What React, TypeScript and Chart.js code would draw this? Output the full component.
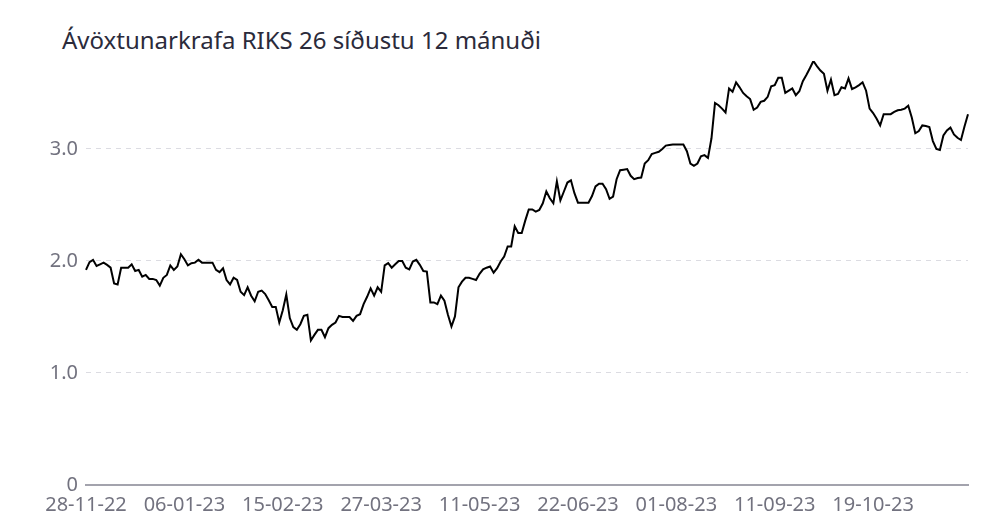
import React, { useEffect, useRef } from 'react';
import { Chart, registerables } from 'chart.js';

Chart.register(...registerables);

const TITLE = 'Ávöxtunarkrafa RIKS 26 síðustu 12 mánuði';

// Trading-day calendar (categories)
const START_DATE = '2022-11-28';
const POINT_COUNT = 252;
const HOLIDAYS = [
  '2022-12-26', '2023-04-06', '2023-04-07', '2023-04-10', '2023-04-20',
  '2023-05-01', '2023-05-18', '2023-05-29', '2023-08-07',
];
const LABEL_STEP = 28;

// Yield (%) per trading day
const yieldValues = [
  1.92, 1.99, 2.01, 1.955, 1.97, 1.985, 1.965, 1.94, 1.80, 1.79,
  1.94, 1.94, 1.94, 1.97, 1.91, 1.92, 1.86, 1.875, 1.84, 1.84,
  1.83, 1.78, 1.85, 1.875, 1.96, 1.92, 1.95, 2.06, 2.015, 1.96,
  1.98, 1.985, 2.01, 1.985, 1.985, 1.985, 1.985, 1.92, 1.90, 1.935,
  1.83, 1.79, 1.85, 1.83, 1.725, 1.695, 1.765, 1.69, 1.64, 1.725,
  1.735, 1.705, 1.65, 1.59, 1.59, 1.45, 1.56, 1.70, 1.49, 1.41,
  1.385, 1.435, 1.51, 1.52, 1.29, 1.34, 1.385, 1.385, 1.32, 1.40,
  1.43, 1.45, 1.51, 1.50, 1.50, 1.50, 1.465, 1.51, 1.525, 1.615,
  1.68, 1.755, 1.69, 1.765, 1.725, 1.96, 1.98, 1.94, 1.97, 2.00,
  2.00, 1.94, 1.925, 1.995, 2.01, 1.965, 1.91, 1.905, 1.63, 1.63,
  1.615, 1.69, 1.645, 1.52, 1.415, 1.505, 1.765, 1.815, 1.85, 1.85,
  1.84, 1.83, 1.885, 1.925, 1.94, 1.95, 1.895, 1.935, 1.995, 2.04,
  2.13, 2.13, 2.31, 2.25, 2.25, 2.36, 2.46, 2.46, 2.44, 2.455,
  2.515, 2.62, 2.56, 2.515, 2.71, 2.54, 2.62, 2.70, 2.72, 2.605,
  2.52, 2.52, 2.52, 2.52, 2.58, 2.665, 2.69, 2.69, 2.64, 2.555,
  2.575, 2.73, 2.81, 2.815, 2.82, 2.76, 2.73, 2.74, 2.745, 2.87,
  2.90, 2.955, 2.965, 2.975, 3.00, 3.03, 3.035, 3.04, 3.04, 3.04,
  3.04, 2.98, 2.87, 2.85, 2.87, 2.935, 2.945, 2.92, 3.095, 3.41,
  3.39, 3.36, 3.325, 3.54, 3.51, 3.595, 3.55, 3.50, 3.47, 3.445,
  3.35, 3.37, 3.42, 3.43, 3.465, 3.56, 3.57, 3.635, 3.635, 3.50,
  3.52, 3.54, 3.48, 3.515, 3.605, 3.66, 3.72, 3.785, 3.74, 3.70,
  3.67, 3.52, 3.62, 3.48, 3.49, 3.55, 3.54, 3.63, 3.535, 3.55,
  3.57, 3.595, 3.52, 3.36, 3.32, 3.27, 3.21, 3.31, 3.31, 3.31,
  3.33, 3.345, 3.35, 3.36, 3.385, 3.28, 3.14, 3.16, 3.21, 3.205,
  3.195, 3.07, 3.00, 2.99, 3.12, 3.165, 3.19, 3.13, 3.10, 3.08,
  3.20, 3.31,
];

const yTickValues = [0, 1, 2, 3];

const FONT = '"Noto Sans", sans-serif';
const TICK_COLOR = '#72727f';
const TITLE_COLOR = '#2b2b3b';

function pad2(n: number): string {
  return n < 10 ? '0' + n : String(n);
}

function buildTradingDays(start: string, count: number, holidays: string[]): string[] {
  const out: string[] = [];
  const d = new Date(start + 'T12:00:00Z');
  while (out.length < count) {
    const day = d.getUTCDay();
    const iso = d.toISOString().slice(0, 10);
    if (day !== 0 && day !== 6 && holidays.indexOf(iso) === -1) {
      out.push(pad2(d.getUTCDate()) + '-' + pad2(d.getUTCMonth() + 1) + '-' + String(d.getUTCFullYear()).slice(2));
    }
    d.setUTCDate(d.getUTCDate() + 1);
  }
  return out;
}

const dateLabels = buildTradingDays(START_DATE, POINT_COUNT, HOLIDAYS);

export default function App() {
  const canvasRef = useRef<HTMLCanvasElement | null>(null);

  useEffect(() => {
    const canvas = canvasRef.current;
    if (!canvas) return;
    const chart = new Chart(canvas, {
      type: 'line',
      data: {
        labels: dateLabels,
        datasets: [
          {
            data: yieldValues.slice(0, dateLabels.length),
            borderColor: '#000000',
            borderWidth: 2,
            pointRadius: 0,
            pointHoverRadius: 0,
            tension: 0,
            fill: false,
          },
        ],
      },
      options: {
        responsive: false,
        animation: false,
        devicePixelRatio: 1,
        layout: { padding: { top: 61, right: 33, bottom: 0, left: 0 } },
        plugins: {
          legend: { display: false },
          title: { display: false },
          tooltip: { enabled: false },
        },
        scales: {
          x: {
            type: 'category',
            grid: { display: false },
            border: { display: true, color: '#a3a3ad', width: 2 },
            afterBuildTicks: (scale: any) => {
              scale.ticks = scale.ticks.filter((_t: any, i: number) => i % LABEL_STEP === 0);
            },
            afterFit: (scale: any) => {
              scale.height = 37;
            },
            ticks: {
              autoSkip: false,
              maxRotation: 0,
              minRotation: 0,
              padding: 0,
              color: TICK_COLOR,
              font: { family: FONT, size: 20 },
            },
          },
          y: {
            min: 0,
            max: Math.max(...yieldValues),
            afterBuildTicks: (scale: any) => {
              scale.ticks = yTickValues.map((v) => ({ value: v }));
            },
            afterFit: (scale: any) => {
              scale.width = 86;
            },
            border: { display: false, dash: [5, 5] },
            grid: {
              color: '#dcdce2',
              lineWidth: 1,
              drawTicks: false,
            },
            ticks: {
              padding: 8,
              color: TICK_COLOR,
              font: { family: FONT, size: 20 },
              callback: (v: any) => (Number(v) === 0 ? '0' : Number(v).toFixed(1)),
            },
          },
        },
      },
    } as any);
    return () => chart.destroy();
  }, []);

  return (
    <div style={{ position: 'fixed', left: 0, top: 0, width: 1001, height: 522, background: '#ffffff' }}>
      <div
        style={{
          position: 'absolute',
          left: 62,
          top: 24,
          fontFamily: FONT,
          fontSize: 24,
          lineHeight: '32px',
          color: TITLE_COLOR,
          whiteSpace: 'nowrap',
        }}
      >
        {TITLE}
      </div>
      <canvas ref={canvasRef} width={1001} height={522} style={{ position: 'absolute', left: 0, top: 0 }} />
    </div>
  );
}
